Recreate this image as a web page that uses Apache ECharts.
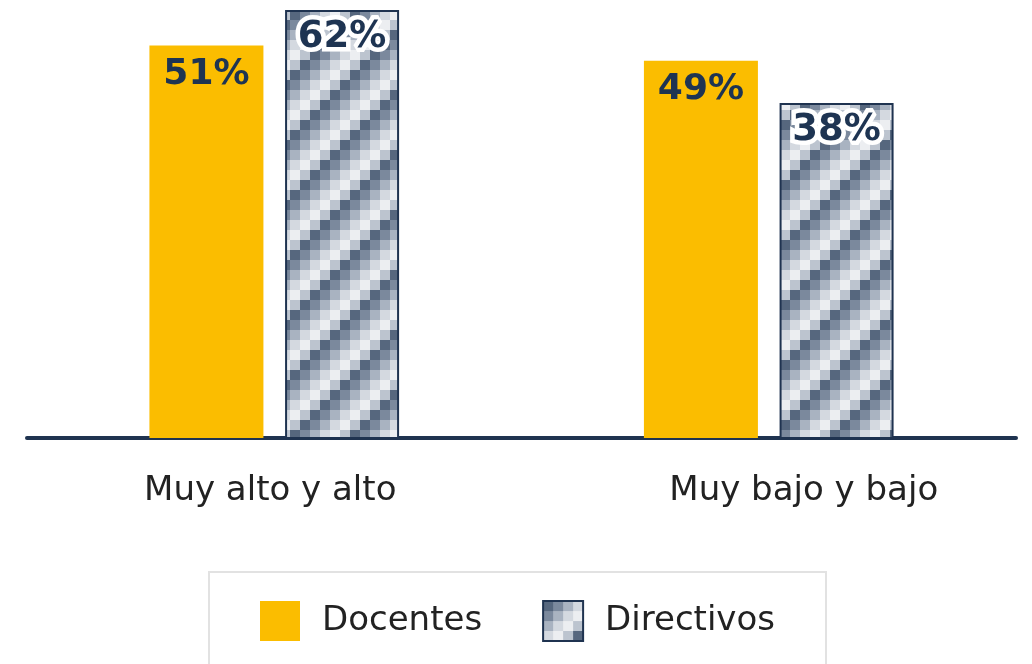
<!DOCTYPE html>
<html><head><meta charset="utf-8">
<script src="https://cdn.jsdelivr.net/npm/echarts@6/dist/echarts.min.js"></script>
<style>html,body{margin:0;padding:0;background:#fff}#c{width:1032px;height:664px}</style>
</head><body><div id="c"></div>
<script>
var categories = ['Muy alto y alto', 'Muy bajo y bajo'];
var seriesNames = ['Docentes', 'Directivos'];
var docentes = [51, 49];
var directivos = [62, 38];

function makePattern() {
  var cell = 10, n = 6;
  var cols = ['#56677e', '#7b899d', '#a9b3c1', '#d4d9e0', '#eceef1', '#bcc4cf'];
  var c = document.createElement('canvas');
  c.width = cell * n; c.height = cell * n;
  var g = c.getContext('2d');
  for (var i = 0; i < n; i++) {
    for (var j = 0; j < n; j++) {
      g.fillStyle = cols[(i + j) % n];
      g.fillRect(i * cell, j * cell, cell, cell);
    }
  }
  return c;
}
var pat = { image: makePattern(), repeat: 'repeat' };

var chart = echarts.init(document.getElementById('c'));
var labelFont = 'DejaVu Sans';
chart.setOption({
  animation: false,
  grid: { left: 27, right: 16, top: 10, bottom: 226, containLabel: false },
  legend: {
    left: 209, top: 572,
    padding: [28, 51, 40, 51],
    borderColor: '#e2e2e2', borderWidth: 2,
    itemWidth: 40, itemHeight: 40, itemGap: 60,
    textStyle: { fontFamily: 'DejaVu Sans', fontSize: 34, color: '#222', padding: [0, 0, 0, 17] },
    data: [
      { name: seriesNames[0], icon: 'rect' },
      { name: seriesNames[1], icon: 'rect' }
    ]
  },
  xAxis: {
    type: 'category',
    data: [
      { value: categories[0], textStyle: { padding: [0, 8, 0, 0] } },
      { value: categories[1], textStyle: { padding: [0, 0, 0, 70] } }
    ],
    axisLine: { lineStyle: { color: '#1f3350', width: 4 } },
    axisTick: { show: false },
    axisLabel: { fontFamily: 'DejaVu Sans', fontSize: 34, color: '#222', margin: 36 }
  },
  yAxis: [
    { type: 'value', min: 0, max: 55.6, show: false, splitLine: { show: false } },
    { type: 'log', min: 6.51, max: 62, logBase: 10, show: false, splitLine: { show: false } }
  ],
  series: [
    {
      name: seriesNames[0], type: 'bar', data: docentes, yAxisIndex: 0,
      barWidth: 114, barGap: '19%',
      itemStyle: { color: '#fbbd00' },
      label: {
        show: true, position: 'insideTop', distance: 11,
        formatter: '{c}%', fontFamily: labelFont, fontWeight: 'bold', fontSize: 36, color: '#1e3452'
      }
    },
    {
      name: seriesNames[1], type: 'bar', data: directivos, yAxisIndex: 1,
      barWidth: 114, barGap: '19%', clip: true,
      itemStyle: { color: pat, borderColor: '#1f3350', borderWidth: 2 },
      label: {
        show: true, position: 'insideTop', distance: 9,
        formatter: '{c}%', fontFamily: labelFont, fontWeight: 'bold', fontSize: 37, color: '#1e3452',
        textBorderColor: '#fff', textBorderWidth: 9
      }
    }
  ]
});
</script></body></html>
